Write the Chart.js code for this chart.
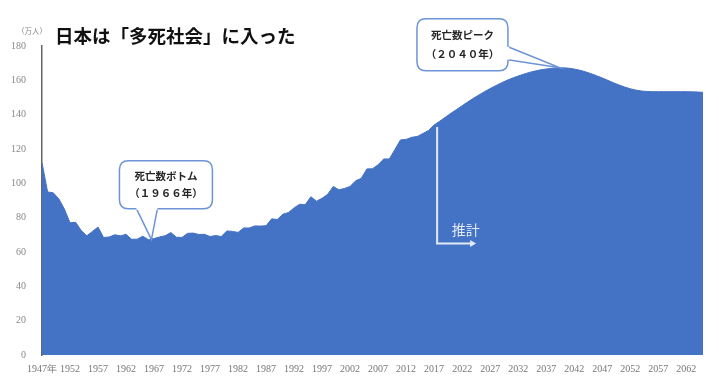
<!DOCTYPE html>
<html>
<head>
<meta charset="utf-8">
<script src="https://cdn.jsdelivr.net/npm/chart.js@4"></script>
<style>
  html, body { margin: 0; padding: 0; background: #fff; }
  #wrap { width: 719px; height: 379px; }
</style>
</head>
<body>
<div id="wrap"><canvas id="deathChart" width="719" height="379"></canvas></div>
<script>
// 死亡数 (万人), 1947-2016 実績, 2017-2065 推計
const firstYear = 1947;
const lastYear = 2065;
const years = Array.from({ length: lastYear - firstYear + 1 }, (_, i) => firstYear + i);

const actualDeaths = [
    112.0, 95.0, 94.5, 91.0, 85.0, 77.0, 77.3, 72.5, 69.4, 72.0,   // 1947-1956
    74.5, 68.4, 68.8, 70.0, 69.4, 70.3, 67.4, 67.5, 69.2, 67.2,    // 1957-1966
    67.8, 68.8, 69.5, 71.3, 68.6, 68.5, 70.9, 71.0, 70.2, 70.3,    // 1967-1976
    69.0, 69.6, 69.0, 72.3, 72.0, 71.4, 74.0, 74.0, 75.2, 75.1,    // 1977-1986
    75.3, 79.3, 78.9, 82.0, 83.0, 85.7, 87.8, 87.6, 92.2, 89.6,    // 1987-1996
    91.3, 93.6, 98.2, 96.2, 97.0, 98.2, 101.5, 102.9, 108.4, 108.5, // 1997-2006
    110.8, 114.2, 114.2, 119.7, 125.3, 125.6, 126.8, 127.3, 129.0, 130.8 // 2007-2016
];
const projectedDeaths = [
    134.0, 136.2, 138.5, 140.8, 143.0, 145.2, 147.4, 149.5, 151.5, 153.4, // 2017-2026
    155.2, 156.9, 158.5, 160.0, 161.3, 162.5, 163.6, 164.6, 165.4, 166.1, // 2027-2036
    166.6, 167.0, 167.2, 167.3, 167.1, 166.6, 165.9, 165.0, 163.9, 162.7, // 2037-2046
    161.4, 160.0, 158.6, 157.3, 156.1, 155.1, 154.3, 153.8, 153.5, 153.4, // 2047-2056
    153.4, 153.4, 153.4, 153.4, 153.4, 153.4, 153.3, 153.2, 153.0         // 2057-2065
];
const deaths = actualDeaths.concat(projectedDeaths);

const yTicks = [0, 20, 40, 60, 80, 100, 120, 140, 160, 180];
const bottomYear = 1966;
const peakYear = 2040;
const estimateStart = 2017;

const blue = "#4472c4";

function roundRect(ctx, x, y, w, h, r) {
    ctx.beginPath();
    ctx.moveTo(x + r, y);
    ctx.lineTo(x + w - r, y);
    ctx.quadraticCurveTo(x + w, y, x + w, y + r);
    ctx.lineTo(x + w, y + h - r);
    ctx.quadraticCurveTo(x + w, y + h, x + w - r, y + h);
    ctx.lineTo(x + r, y + h);
    ctx.quadraticCurveTo(x, y + h, x, y + h - r);
    ctx.lineTo(x, y + r);
    ctx.quadraticCurveTo(x, y, x + r, y);
    ctx.closePath();
}

// callout box with a pointer running to the tip
function callout(ctx, box, base1, base2, tip, lines) {
    ctx.save();
    ctx.fillStyle = "#fff";
    ctx.strokeStyle = "#6d93d8";
    ctx.lineWidth = 1.5;
    roundRect(ctx, box.x, box.y, box.w, box.h, 9);
    ctx.fill();
    ctx.stroke();
    // pointer
    ctx.beginPath();
    ctx.moveTo(base1.x, base1.y);
    ctx.lineTo(tip.x, tip.y);
    ctx.lineTo(base2.x, base2.y);
    ctx.closePath();
    ctx.fill();
    ctx.beginPath();
    ctx.moveTo(base1.x, base1.y);
    ctx.lineTo(tip.x, tip.y);
    ctx.lineTo(base2.x, base2.y);
    ctx.stroke();
    // cover the box edge under the pointer base
    ctx.beginPath();
    ctx.moveTo(base1.x, base1.y);
    ctx.lineTo(base2.x, base2.y);
    ctx.lineWidth = 2.5;
    ctx.strokeStyle = "#fff";
    ctx.stroke();

    ctx.fillStyle = "#262626";
    ctx.font = "bold 10.5px 'Noto Sans CJK JP'";
    ctx.textAlign = "center";
    ctx.textBaseline = "middle";
    const cx = box.x + box.w / 2;
    ctx.fillText(lines[0], cx, box.y + box.h * 0.32);
    ctx.fillText(lines[1], cx, box.y + box.h * 0.68);
    ctx.restore();
}

const decorations = {
    id: "decorations",
    afterDraw(chart) {
        const ctx = chart.ctx;
        const x = chart.scales.x;
        const y = chart.scales.y;

        // title + unit
        ctx.save();
        ctx.fillStyle = "#111";
        ctx.font = "bold 18.5px 'Noto Sans CJK JP'";
        ctx.textBaseline = "middle";
        ctx.textAlign = "left";
        ctx.fillText("日本は「多死社会」に入った", 55, 36);
        ctx.fillStyle = "#888";
        ctx.font = "7.5px 'Noto Sans CJK JP'";
        ctx.fillText("（万人）", 17, 31);
        ctx.restore();

        // estimate arrow
        const ei = years.indexOf(estimateStart);
        const ex = x.getPixelForValue(ei) + 3;
        const ey1 = y.getPixelForValue(deaths[ei]) + 2;
        const ey2 = y.getPixelForValue(65);
        const ex2 = x.getPixelForValue(ei + 7.5);
        ctx.save();
        ctx.strokeStyle = "#e3eaf7";
        ctx.fillStyle = "#e3eaf7";
        ctx.lineWidth = 2;
        ctx.beginPath();
        ctx.moveTo(ex, ey1);
        ctx.lineTo(ex, ey2);
        ctx.lineTo(ex2 - 4, ey2);
        ctx.stroke();
        ctx.beginPath();
        ctx.moveTo(ex2, ey2);
        ctx.lineTo(ex2 - 6, ey2 - 3.5);
        ctx.lineTo(ex2 - 6, ey2 + 3.5);
        ctx.closePath();
        ctx.fill();
        ctx.font = "14px 'Noto Sans CJK JP'";
        ctx.textAlign = "center";
        ctx.textBaseline = "middle";
        ctx.fillText("推計", (ex + ex2) / 2 + 9, ey2 - 14);
        ctx.restore();

        // bottom callout (1966)
        const bi = years.indexOf(bottomYear);
        const bx = x.getPixelForValue(bi) + 3;
        const by = y.getPixelForValue(deaths[bi]);
        callout(ctx,
            { x: bx - 32, y: by - 79, w: 93, h: 48 },
            { x: bx - 15, y: by - 31 }, { x: bx + 6, y: by - 31 },
            { x: bx, y: by },
            ["死亡数ボトム", "（１９６６年）"]);

        // peak callout (2040)
        const pi = years.indexOf(peakYear);
        const px = x.getPixelForValue(pi) - 3;
        const py = y.getPixelForValue(deaths[pi]);
        callout(ctx,
            { x: px - 143, y: py - 49, w: 91, h: 52 },
            { x: px - 52, y: py - 21 }, { x: px - 52, y: py - 8 },
            { x: px, y: py },
            ["死亡数ピーク", "（２０４０年）"]);
    }
};

new Chart(document.getElementById("deathChart"), {
    type: "line",
    data: {
        labels: years,
        datasets: [
            {
                data: deaths,
                fill: "origin",
                backgroundColor: blue,
                borderColor: blue,
                borderWidth: 1,
                pointRadius: 0,
                tension: 0
            }
        ]
    },
    options: {
        responsive: false,
        animation: false,
        layout: { padding: { top: 46, right: 16, left: 0, bottom: 0 } },
        plugins: {
            legend: { display: false },
            tooltip: { enabled: false }
        },
        scales: {
            x: {
                offset: false,
                grid: { display: false },
                border: { display: false },
                ticks: {
                    autoSkip: false,
                    maxRotation: 0,
                    padding: 0,
                    color: "#777",
                    font: { family: "'Liberation Serif'", size: 10 },
                    callback: (v, i) => i === 0 ? years[i] + "年" : (i % 5 === 0 ? String(years[i]) : "")
                },
                afterFit: (s) => { s.height = 24; }
            },
            y: {
                min: 0,
                max: 180,
                grid: { display: false },
                border: { display: true, color: "#666", width: 1.5 },
                afterBuildTicks: (s) => { s.ticks = yTicks.map(v => ({ value: v })); },
                ticks: {
                    padding: 8,
                    color: "#888",
                    font: { family: "'Liberation Serif'", size: 10 }
                },
                afterFit: (s) => { s.width = 42; }
            }
        }
    },
    plugins: [decorations]
});
</script>
</body>
</html>
